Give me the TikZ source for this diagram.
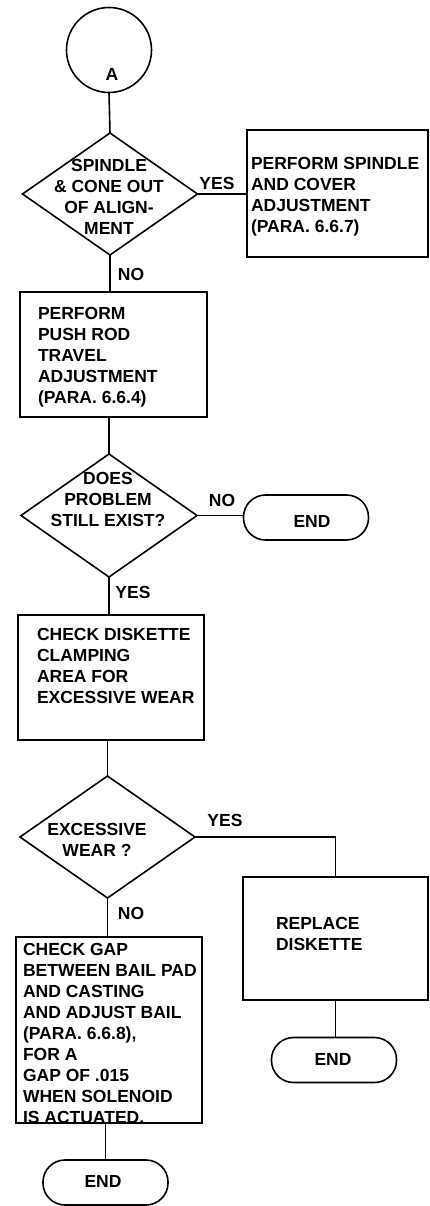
\documentclass[tikz,border=0pt]{standalone}
\usepackage{fontspec}
\setmainfont{Liberation Sans}
\usetikzlibrary{shapes.geometric}
\begin{document}
\begin{tikzpicture}[x=1pt,y=-1pt,
  every node/.style={font=\fontsize{17.5}{21}\selectfont\bfseries, inner sep=0pt, outer sep=0pt},
  ln/.style={line width=1.6pt},
  boxs/.style={draw, ln, rectangle},
  decs/.style={draw, ln, diamond},
  terms/.style={draw, ln, rectangle, rounded corners=22pt, minimum width=125pt, minimum height=45pt},
  txtl/.style={anchor=north west, align=left},
  txtc/.style={anchor=north, align=center},
  lab/.style={anchor=center}]
\useasboundingbox (0,0) rectangle (430,1206);
% shapes
\node[draw, ln, circle, minimum size=85pt] (A) at (109,50) {};
\node (Alab) at (112,74) {A};
\node[decs, minimum width=175pt, minimum height=122pt] (d1) at (110,194) {};
\node[boxs, minimum width=181pt, minimum height=127pt] (b1) at (337.5,193.5) {};
\node[boxs, minimum width=187pt, minimum height=125pt] (b2) at (113.5,354.5) {};
\node[decs, minimum width=176pt, minimum height=123pt] (d2) at (109,515.5) {};
\node[terms] (e1) at (306,517.5) {};
\node[boxs, minimum width=186pt, minimum height=125pt] (b3) at (111,677.5) {};
\node[decs, minimum width=175pt, minimum height=122pt] (d3) at (107.5,837) {};
\node[boxs, minimum width=185pt, minimum height=123pt] (b4) at (335.5,938.5) {};
\node[boxs, minimum width=186pt, minimum height=186pt] (b5) at (109,1030) {};
\node[terms] (e2) at (334,1060) {};
\node[terms] (e3) at (105.5,1182.5) {};
% texts
\node[txtc] (d1t) at (109,159) {SPINDLE\\\& CONE OUT\\OF ALIGN-\\MENT};
\node[txtl] (b1t) at (251,157) {PERFORM SPINDLE\\AND COVER\\ADJUSTMENT\\(PARA. 6.6.7)};
\node[txtl] (b2t) at (38,307) {PERFORM\\PUSH ROD\\TRAVEL\\ADJUSTMENT\\(PARA. 6.6.4)};
\node[txtc] (d2t) at (108,472) {DOES\\PROBLEM\\STILL EXIST?};
\node (e1t) at (312,521) {END};
\node[txtl] (b3t) at (37,628) {CHECK DISKETTE\\CLAMPING\\AREA FOR\\EXCESSIVE WEAR};
\node[txtc] (d3t) at (97,823) {EXCESSIVE\\WEAR ?};
\node[txtl] (b4t) at (276,917) {REPLACE\\DISKETTE};
\node[txtl] (b5t) at (23,943) {CHECK GAP\\BETWEEN BAIL PAD\\AND CASTING\\AND ADJUST BAIL\\(PARA. 6.6.8),\\FOR A\\GAP OF .015\\WHEN SOLENOID\\IS ACTUATED.};
\node (e2t) at (333,1059) {END};
\node (e3t) at (103,1181) {END};
% labels
\node[lab] (y1) at (217,183) {YES};
\node[lab] (n1) at (131,274) {NO};
\node[lab] (n2) at (222,500) {NO};
\node[lab] (y2) at (133,592) {YES};
\node[lab] (y3) at (225,820) {YES};
\node[lab] (n3) at (131,913) {NO};
% connectors
\draw[ln] (A.south) -- (d1.north);
\draw[ln] (d1.east) -- (d1.east -| b1.west);
\draw[ln] (d1.south) -- (d1.south |- b2.north);
\draw[ln] (b2.south -| d2.north) -- (d2.north);
\draw[ln] (d2.east) -- (d2.east -| e1.west);
\draw[ln] (d2.south) -- (d2.south |- b3.north);
\draw[ln] (b3.south -| d3.north) -- (d3.north);
\draw[ln] (d3.east) -| (b4.north);
\draw[ln] (d3.south) -- (d3.south |- b5.north);
\draw[ln] (b5.south -| e3.north) -- (e3.north);
\draw[ln] (b4.south) -- (b4.south |- e2.north);
\end{tikzpicture}
\end{document}
